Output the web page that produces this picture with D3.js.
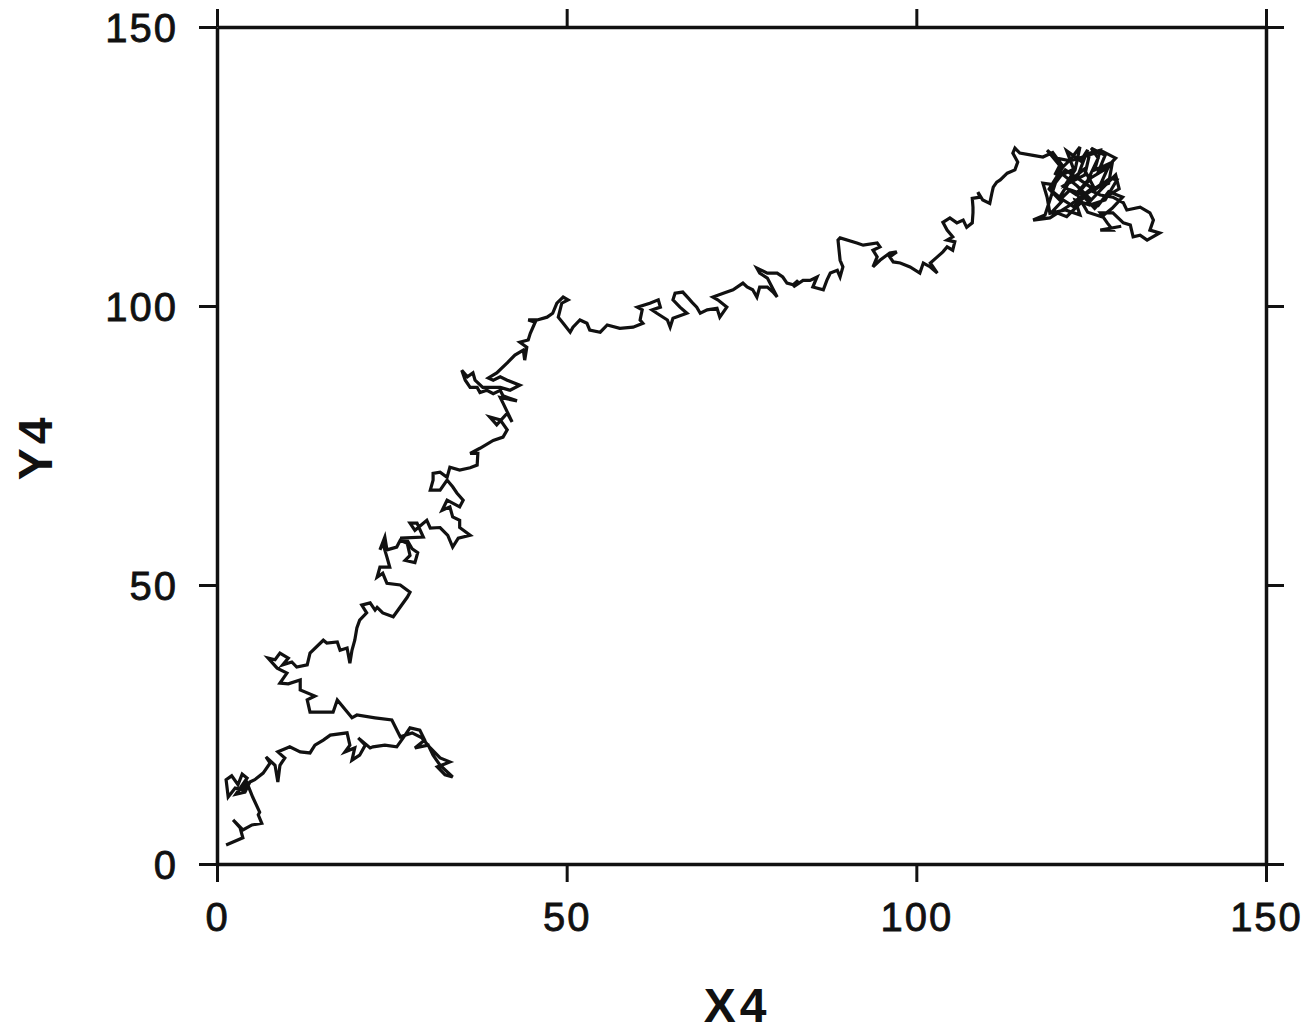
<!DOCTYPE html>
<html>
<head>
<meta charset="utf-8">
<script src="https://cdn.jsdelivr.net/npm/d3@7"></script>
<style>
  html, body { margin: 0; padding: 0; background: #fff; }
  svg { display: block; }
</style>
</head>
<body>
<div id="walk"></div>
<script>
// axis ticks and titles
const xTicks = [0, 50, 100, 150];
const yTicks = [0, 50, 100, 150];
const xTitle = 'X4';
const yTitle = 'Y4';

// path of the walk in data units
const walkX = [
  1.3, 3.7, 3.3, 2.3, 3.7, 5.0, 6.4, 5.9, 6.1, 5.1, 4.3, 3.7, 2.6, 1.6, 1.3, 2.1, 3.0, 3.6, 4.3, 2.7,
  4.0, 4.7, 5.4, 6.6, 7.6, 7.0, 8.3, 8.7, 9.0, 9.7, 8.7, 10.0, 10.4, 11.9, 13.3, 14.0, 15.2, 16.2, 18.6, 19.0,
  18.3, 19.7, 19.3, 20.4, 21.2, 20.2, 21.9, 22.3, 24.0, 25.7, 26.9, 27.6, 29.0, 29.7, 28.3, 30.2, 30.9, 31.9, 33.7, 32.6,
  31.5, 33.3, 31.9, 30.5, 29.3, 27.9, 26.2, 25.0, 22.6, 20.0, 19.3, 17.2, 16.6, 14.7, 13.3, 12.9, 14.0, 11.9, 11.9, 10.2,
  9.0, 10.0, 8.6, 7.3, 8.3, 9.0, 10.2, 9.4, 10.7, 11.4, 12.9, 13.3, 15.2, 15.7, 17.2, 17.6, 18.6, 19.0, 19.3, 19.7,
  20.0, 20.4, 21.4, 20.7, 21.9, 22.6, 22.9, 23.7, 25.2, 27.2, 27.6, 26.2, 24.3, 23.7, 22.9, 23.3, 24.7, 24.3, 23.7, 23.3,
  24.0, 24.3, 25.7, 26.2, 27.2, 27.6, 26.9, 28.3, 28.7, 27.9, 27.2, 26.2, 29.5, 28.6, 27.6, 28.3, 30.0, 30.5, 31.9, 33.0,
  33.7, 34.5, 36.2, 34.7, 34.7, 33.7, 33.3, 32.2, 32.9, 34.7, 35.2, 34.3, 33.7, 32.9, 31.9, 30.5, 30.9, 30.9, 31.9, 32.9,
  33.3, 34.7, 36.2, 37.2, 37.3, 36.2, 37.6, 39.5, 40.9, 41.5, 40.5, 39.0, 40.0, 41.5, 42.2, 40.9, 40.5, 42.9, 40.9, 40.5,
  39.5, 38.6, 37.6, 37.2, 36.2, 35.5, 35.0, 35.8, 36.6, 36.9, 38.0, 40.5, 41.9, 43.3, 41.5, 40.5, 39.5, 38.8, 40.0, 41.5,
  42.6, 43.8, 44.0, 44.3, 43.3, 44.5, 44.8, 45.5, 44.5, 45.8, 47.2, 48.0, 48.6, 49.5, 50.2, 49.3, 48.8, 49.5, 50.5, 50.9,
  51.9, 52.9, 53.3, 54.8, 55.8, 57.6, 59.5, 60.9, 60.5, 60.8, 60.1, 61.9, 63.1, 63.4, 62.2, 62.9, 64.4, 64.8, 65.2, 67.2,
  66.2, 65.2, 65.5, 66.6, 67.4, 67.9, 68.6, 69.1, 70.1, 71.5, 71.9, 72.9, 71.6, 70.9, 72.4, 73.8, 75.2, 75.8, 76.6, 77.2,
  77.6, 78.7, 79.5, 80.1, 78.7, 77.6, 77.2, 78.7, 80.1, 80.9, 81.5, 82.4, 83.1, 82.4, 83.8, 84.8, 85.8, 85.2, 86.7, 87.2,
  87.7, 88.7, 89.1, 89.5, 89.1, 88.8, 89.1, 91.5, 92.4, 94.4, 94.8, 93.8, 94.4, 93.8, 94.8, 96.2, 97.2, 96.2, 96.7, 97.7,
  99.1, 100.5, 101.0, 102.0, 103.0, 102.0, 103.0, 103.8, 104.4, 105.2, 105.5, 104.4, 105.2, 104.4, 103.8, 104.8, 105.8, 106.7, 107.2, 108.0,
  108.1, 108.1, 108.0, 109.1, 108.8, 109.5, 110.5, 110.8, 111.0, 111.5, 112.0, 113.0, 114.1, 114.5, 113.8, 114.1, 114.8, 116.7, 118.1,
  119.5, 121.0, 120.0, 122.5, 121.5, 123.5, 124.5, 123.0, 121.0, 122.8, 124.5, 126.0, 125.0, 127.0, 126.0, 128.0, 127.5, 125.5, 124.0, 122.0,
  120.5, 119.0, 120.5, 123.0, 125.0, 126.5, 128.5, 129.0, 127.0, 125.5, 124.0, 122.5, 121.0, 119.5, 121.5, 123.5, 126.0, 127.5, 129.5, 128.0,
  126.5, 124.5, 123.0, 125.0, 127.0, 128.5, 126.5, 124.0, 122.0, 120.0,
  118.7, 120.5, 119.8, 122.0, 123.4, 122.7, 121.3, 124.1, 124.8, 126.3, 125.5, 127.0, 127.7, 126.3, 124.1, 122.0, 120.5, 119.1, 121.3, 123.4,
  125.5, 127.7, 128.7, 127.0, 124.8, 122.7, 123.4, 121.3, 119.1, 118.7, 118.1, 119.8, 118.4, 116.7, 119.1, 122.0, 124.8, 126.3, 128.1, 129.6,
  130.1, 132.0, 133.4, 133.9, 133.4, 134.8, 133.0, 132.0, 131.0, 130.6, 129.6, 128.1, 126.3, 127.3, 128.1, 126.3, 129.3
];
const walkY = [
  3.4, 4.7, 6.5, 7.9, 6.1, 7.0, 7.3, 8.8, 9.3, 12.0, 14.5, 13.3, 13.6, 12.0, 15.1, 15.8, 14.2, 16.1, 15.4, 12.5,
  12.9, 14.7, 15.1, 16.3, 18.1, 19.2, 17.7, 14.7, 17.7, 19.0, 20.1, 20.8, 21.0, 20.1, 19.9, 21.3, 22.2, 23.1, 23.5, 21.3,
  20.1, 20.8, 18.6, 19.5, 21.3, 22.6, 20.8, 21.0, 21.3, 21.0, 23.1, 24.4, 24.0, 22.2, 20.8, 21.3, 19.5, 17.7, 15.6, 16.0,
  17.4, 18.3, 19.0, 20.8, 22.6, 23.5, 22.8, 25.8, 26.2, 26.7, 26.2, 29.4, 27.2, 27.2, 27.2, 29.4, 30.1, 31.2, 33.0, 32.3,
  32.4, 34.2, 35.1, 36.9, 36.6, 37.8, 36.9, 35.7, 36.2, 35.3, 35.7, 37.8, 40.1, 39.6, 39.8, 38.3, 38.7, 36.0, 38.3, 40.1,
  42.3, 43.7, 45.0, 46.4, 46.8, 45.5, 46.0, 45.0, 44.3, 47.8, 48.7, 50.0, 50.3, 52.1, 51.4, 53.2, 53.2, 55.0, 57.5, 56.3,
  58.6, 56.3, 56.8, 58.0, 57.5, 55.3, 54.4, 54.0, 55.8, 56.5, 58.0, 58.4, 58.6, 61.1, 61.1, 59.8, 61.6, 60.2, 60.3, 58.9,
  56.8, 58.4, 58.9, 60.3, 61.6, 62.2, 64.0, 63.4, 65.2, 64.0, 65.2, 66.5, 67.6, 68.8, 67.0, 67.0, 68.8, 70.0, 70.2, 69.3,
  71.1, 70.6, 71.0, 71.5, 73.6, 73.6, 74.5, 75.9, 76.5, 77.8, 79.6, 80.1, 78.7, 80.8, 79.2, 82.6, 83.6, 83.0, 83.9, 84.9,
  84.3, 84.9, 84.5, 85.4, 85.4, 86.7, 88.5, 87.3, 88.0, 86.7, 85.4, 85.4, 84.9, 85.8, 86.7, 87.3, 86.7, 87.1, 88.0, 89.8,
  91.2, 92.1, 90.3, 92.6, 93.5, 93.9, 95.1, 97.1, 97.5, 97.5, 98.0, 98.7, 100.5, 101.6, 101.1, 100.5, 98.0, 96.9, 95.3, 96.2,
  97.5, 96.9, 95.7, 95.3, 96.6, 96.0, 96.2, 96.9, 97.5, 99.3, 99.8, 100.5, 101.1, 99.8, 99.3, 98.7, 97.5, 96.2, 97.8, 98.7,
  99.8, 101.1, 102.3, 102.5, 101.4, 100.7, 99.8, 98.7, 99.3, 99.6, 98.0, 99.8, 101.1, 101.6, 102.3, 102.9, 104.1, 103.4, 102.9, 101.6,
  103.4, 103.4, 102.5, 101.6, 105.0, 105.9, 106.8, 105.9, 105.9, 105.2, 104.1, 103.8, 104.6, 103.4, 104.6, 104.6, 105.2, 103.4, 102.9, 104.6,
  105.9, 106.4, 105.2, 107.0, 108.2, 111.8, 112.2, 111.3, 110.9, 111.3, 110.6, 110.0, 108.8, 107.0, 108.2, 109.5, 109.7, 108.8, 107.9, 107.7,
  107.0, 105.9, 107.7, 107.0, 105.9, 107.7, 108.8, 109.7, 110.6, 110.0, 111.5, 111.8, 112.4, 113.6, 115.0, 115.8, 114.9, 115.4, 114.1, 114.9,
  116.7, 117.7, 119.3, 119.5, 120.4, 119.0, 118.4, 120.2, 121.3, 122.2, 122.6, 123.8, 124.4, 125.8, 127.4, 128.3, 127.4, 127.0, 126.7,
  127.5, 125.0, 123.0, 124.5, 127.8, 126.0, 128.0, 123.0, 121.5, 120.0, 122.5, 126.5, 128.3, 127.0, 124.0, 125.5, 122.0, 121.0, 124.5, 122.5,
  119.5, 121.0, 124.0, 121.5, 119.0, 121.0, 123.5, 121.0, 119.5, 117.5, 119.5, 117.8, 119.0, 117.0, 116.0, 118.5, 118.0, 120.5, 119.5, 117.5,
  116.0, 116.8, 120.0, 123.0, 124.5, 126.5, 127.8, 126.8, 126.0, 126.5,
  127.9, 125.2, 123.5, 126.2, 128.5, 124.4, 121.7, 123.5, 127.4, 127.9, 124.4, 125.2, 125.6, 121.7, 119.9, 120.8, 119.0, 120.8, 124.4, 122.6,
  120.8, 122.9, 122.6, 119.0, 118.1, 119.0, 116.3, 117.2, 116.6, 119.5, 122.0, 121.7, 116.3, 115.4, 115.8, 118.1, 120.8, 119.9, 119.5, 118.5,
  117.2, 117.7, 116.7, 115.4, 113.6, 113.1, 111.8, 112.7, 112.4, 114.5, 114.9, 116.7, 116.7, 114.9, 113.6, 113.6, 114.3
];

const width = 1306;
const height = 1034;
const margin = {top: 27, right: 40, bottom: 170, left: 217};
const tickLen = 18;
const font = '"Liberation Sans", Arial, Helvetica, sans-serif';
const ink = '#111';

const svg = d3
  .select('#walk')
  .append('svg')
  .attr('width', width)
  .attr('height', height)
  .attr('viewBox', `0,0,${width},${height}`);

const x = d3
  .scaleLinear()
  .domain([0, 150])
  .range([margin.left, width - margin.right]);
const y = d3
  .scaleLinear()
  .domain([0, 150])
  .range([height - margin.bottom, margin.top]);

const styleAxis = g => {
  g.select('.domain').attr('stroke', ink).attr('stroke-width', 3.5);
  g.selectAll('.tick line').attr('stroke', ink).attr('stroke-width', 3);
  g.selectAll('.tick text')
    .attr('fill', ink)
    .attr('stroke', ink)
    .attr('stroke-width', 0.8)
    .style('font-family', font)
    .style('font-size', '40px')
    .style('letter-spacing', '2px');
};

// bottom, left: labelled; top, right: ticks only
svg.append('g')
  .attr('transform', `translate(0,${y(0)})`)
  .call(d3.axisBottom(x).tickValues(xTicks).tickSize(tickLen).tickSizeOuter(0).tickPadding(21))
  .call(styleAxis);

svg.append('g')
  .attr('transform', `translate(0,${y(150)})`)
  .call(d3.axisTop(x).tickValues(xTicks).tickSize(tickLen).tickSizeOuter(0).tickFormat(''))
  .call(styleAxis);

svg.append('g')
  .attr('transform', `translate(${x(0)},0)`)
  .call(d3.axisLeft(y).tickValues(yTicks).tickSize(tickLen).tickSizeOuter(0).tickPadding(21))
  .call(styleAxis)
  .call(g => g.selectAll('.tick text').attr('dy', '0.36em'));

svg.append('g')
  .attr('transform', `translate(${x(150)},0)`)
  .call(d3.axisRight(y).tickValues(yTicks).tickSize(tickLen).tickSizeOuter(0).tickFormat(''))
  .call(styleAxis);

// the walk
const n = Math.min(walkX.length, walkY.length);
const line = d3
  .line()
  .x(i => x(walkX[i]))
  .y(i => y(walkY[i]));

svg.append('path')
  .datum(d3.range(n))
  .attr('fill', 'none')
  .attr('stroke', ink)
  .attr('stroke-width', 3.2)
  .attr('stroke-linejoin', 'miter')
  .attr('stroke-miterlimit', 4)
  .attr('d', line);

// axis titles
svg.append('text')
  .attr('x', 737)
  .attr('y', 1022)
  .attr('text-anchor', 'middle')
  .attr('fill', ink)
  .style('font-family', font)
  .style('font-size', '48px')
  .style('font-weight', 'bold')
  .style('letter-spacing', '4px')
  .text(xTitle);

svg.append('text')
  .attr('transform', 'translate(52,447) rotate(-90)')
  .attr('text-anchor', 'middle')
  .attr('fill', ink)
  .style('font-family', font)
  .style('font-size', '48px')
  .style('font-weight', 'bold')
  .style('letter-spacing', '4px')
  .text(yTitle);
</script>
</body>
</html>
